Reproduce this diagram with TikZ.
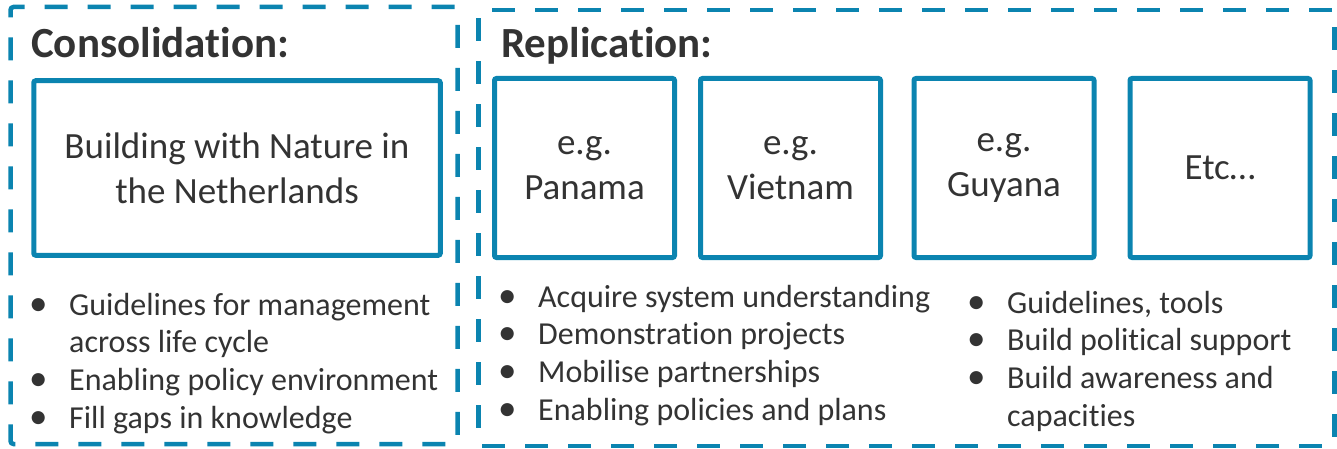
\documentclass[tikz,border=0pt]{standalone}
\usepackage{fontspec}
\setmainfont{Carlito}[Ligatures={TeX,NoCommon}]
\usepackage{xcolor}
\definecolor{frameBlue}{HTML}{0B84B0}
\definecolor{textDark}{HTML}{333333}
\usepackage{tikz}
\usetikzlibrary{positioning}
\tikzset{%
  frameBox/.style={%
    rectangle,
    rounded corners=3pt,
    draw=frameBlue,
    line width=4.5pt,
    dash pattern=on 23pt off 20pt,
    inner sep=0pt
  },
  caseBox/.style={%
    rectangle,
    rounded corners=2pt,
    draw=frameBlue,
    line width=5pt,
    outer sep=0pt,
    minimum width=180pt,
    minimum height=179pt,
    align=center,
    text=textDark,
    font=\fontsize{37}{45}\selectfont
  },
  headLabel/.style={%
    anchor=base west,
    inner sep=0pt,
    text=textDark,
    font=\fontsize{43}{50}\selectfont\bfseries
  },
  bulletList/.style={%
    anchor=base west,
    inner sep=0pt,
    text=textDark,
    font=\fontsize{32}{37.7}\selectfont
  }
}
\newcommand{\bulletRows}[1]{\begin{tabular}[t]{@{}p{40pt}@{}l@{}}#1\end{tabular}}
\newcommand{\dotMark}{{\fontsize{37}{37.7}\selectfont\textbullet}}

\begin{document}
\begin{tikzpicture}[x=1pt,y=-1pt]
            \useasboundingbox (0,0) rectangle (1337,449);

            % the two dashed frames
            \node[frameBox, minimum width=447pt, minimum height=437pt] (consFrame) at (234,225.5) {};
            \node[frameBox, minimum width=856pt, minimum height=436pt] (repFrame) at (906.5,228) {};

            \node[headLabel] (consHead) at (31,58) {Consolidation:};
            \node[headLabel] (repHead) at (501,58) {Replication:};

            % cases
            \node[caseBox, minimum width=406.5pt, minimum height=174.5pt] (netherlands) at (237,168) {Building with Nature in\\the Netherlands};
            \node[caseBox] (panama) at (584.5,168) {e.g.\\Panama};
            \node[caseBox, right=26pt of panama] (vietnam) {e.g.\\Vietnam};
            \node[caseBox, right=33.5pt of vietnam] (guyana) {e.g.\\Guyana};
            \node[caseBox, right=36pt of guyana] (etc) {Etc…};

            % activities
            \node[bulletList] (consList) at (29,315) {\bulletRows{%
              \dotMark & Guidelines for management\\
              & across life cycle\\
              \dotMark & Enabling policy environment\\
              \dotMark & Fill gaps in knowledge}};
            \node[bulletList] (repList) at (498,307) {\bulletRows{%
              \dotMark & Acquire system understanding\\
              \dotMark & Demonstration projects\\
              \dotMark & Mobilise partnerships\\
              \dotMark & Enabling policies and plans}};
            \node[bulletList] (supportList) at (967,313) {\bulletRows{%
              \dotMark & Guidelines, tools\\
              \dotMark & Build political support\\
              \dotMark & Build awareness and\\
              & capacities}};
        \end{tikzpicture}
\end{document}
